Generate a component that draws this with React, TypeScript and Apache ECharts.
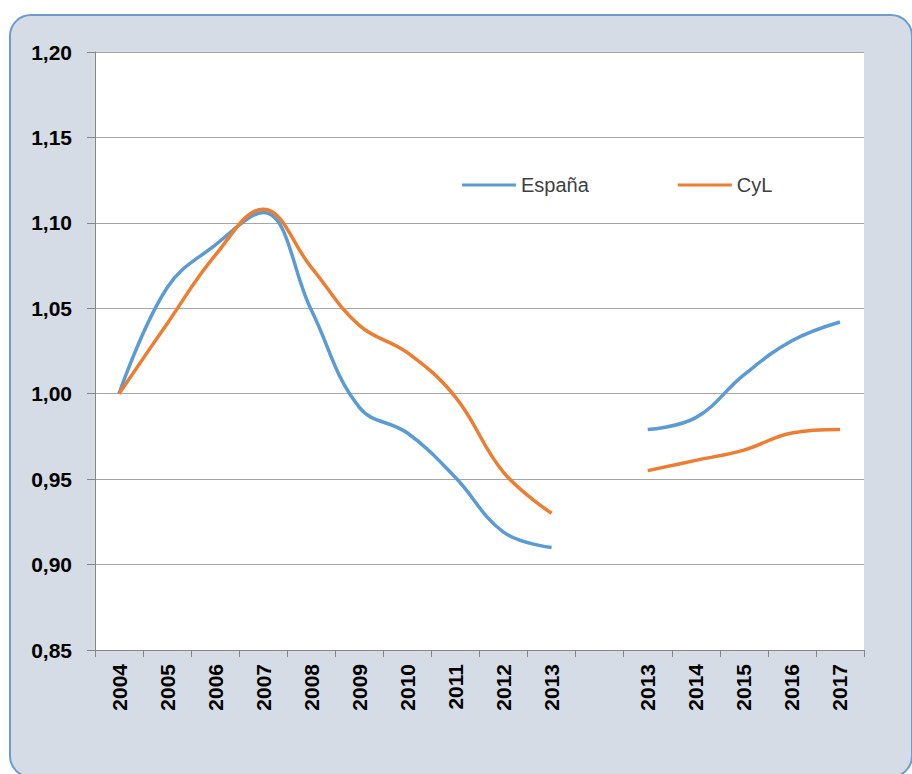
import React, { useEffect, useRef } from "react";
import * as echarts from "echarts";

const categories = ["2004", "2005", "2006", "2007", "2008", "2009", "2010", "2011", "2012", "2013", "", "2013", "2014", "2015", "2016", "2017"];
const espana = [1.0, 1.062, 1.087, 1.106, 1.049, 0.992, 0.977, 0.951, 0.919, 0.91, null, 0.979, 0.986, 1.011, 1.031, 1.042];
const cyl = [1.0, 1.041, 1.081, 1.108, 1.074, 1.04, 1.024, 0.998, 0.954, 0.93, null, 0.955, 0.961, 0.967, 0.977, 0.979];
const seriesNames = ["España", "CyL"];
const yMin = 0.85;
const yMax = 1.2;
const yStep = 0.05;

export default function App() {
  const ref = useRef<HTMLDivElement>(null);
  useEffect(() => {
    if (!ref.current) return;
    const chart = echarts.init(ref.current, null, { renderer: "svg" });
    const font = "'Liberation Sans', Arial, sans-serif";
    chart.setOption({
      animation: false,
      backgroundColor: "transparent",
      graphic: [
        {
          type: "rect",
          z: -10,
          silent: true,
          shape: { x: 10, y: 15, width: 902, height: 762, r: 21 },
          style: { fill: "#d6dce5", stroke: "#6a9bd3", lineWidth: 2 },
        },
      ],
      grid: {
        left: 95,
        right: 48,
        top: 52,
        bottom: 124,
        show: true,
        backgroundColor: "#ffffff",
        borderWidth: 0,
        containLabel: false,
      },
      legend: {
        data: seriesNames,
        left: 457,
        top: 170,
        icon: "rect",
        itemWidth: 54,
        itemHeight: 3,
        itemGap: 89,
        textStyle: { fontFamily: font, fontSize: 20, color: "#404040" },
      },
      xAxis: {
        type: "category",
        data: categories,
        boundaryGap: true,
        axisLine: { lineStyle: { color: "#868686", width: 1 } },
        axisTick: { show: true, length: 7, alignWithLabel: false, lineStyle: { color: "#868686" } },
        axisLabel: {
          rotate: 90,
          interval: 0,
          margin: 14,
          fontFamily: font,
          fontWeight: "bold",
          fontSize: 21,
          color: "#000000",
        },
        splitLine: { show: false },
      },
      yAxis: {
        type: "value",
        min: yMin,
        max: yMax,
        interval: yStep,
        axisLine: { show: true, lineStyle: { color: "#868686", width: 1 } },
        axisTick: { show: true, length: 8, lineStyle: { color: "#868686" } },
        axisLabel: {
          margin: 23,
          fontFamily: font,
          fontWeight: "bold",
          fontSize: 21,
          color: "#000000",
          formatter: (v: number) => v.toFixed(2).replace(".", ","),
        },
        splitLine: { show: true, lineStyle: { color: "#a6a6a6", width: 1 } },
      },
      series: [
        {
          name: seriesNames[0],
          type: "line",
          data: espana,
          smooth: 0.4,
          symbol: "none",
          connectNulls: false,
          lineStyle: { color: "#5b9bd5", width: 3.5 },
          itemStyle: { color: "#5b9bd5" },
        },
        {
          name: seriesNames[1],
          type: "line",
          data: cyl,
          smooth: 0.4,
          symbol: "none",
          connectNulls: false,
          lineStyle: { color: "#ed7d31", width: 3.5 },
          itemStyle: { color: "#ed7d31" },
        },
      ],
    });
    return () => chart.dispose();
  }, []);
  return (
    <div
      ref={ref}
      style={{ position: "fixed", left: 0, top: 0, width: 912, height: 774, background: "#ffffff" }}
    />
  );
}
